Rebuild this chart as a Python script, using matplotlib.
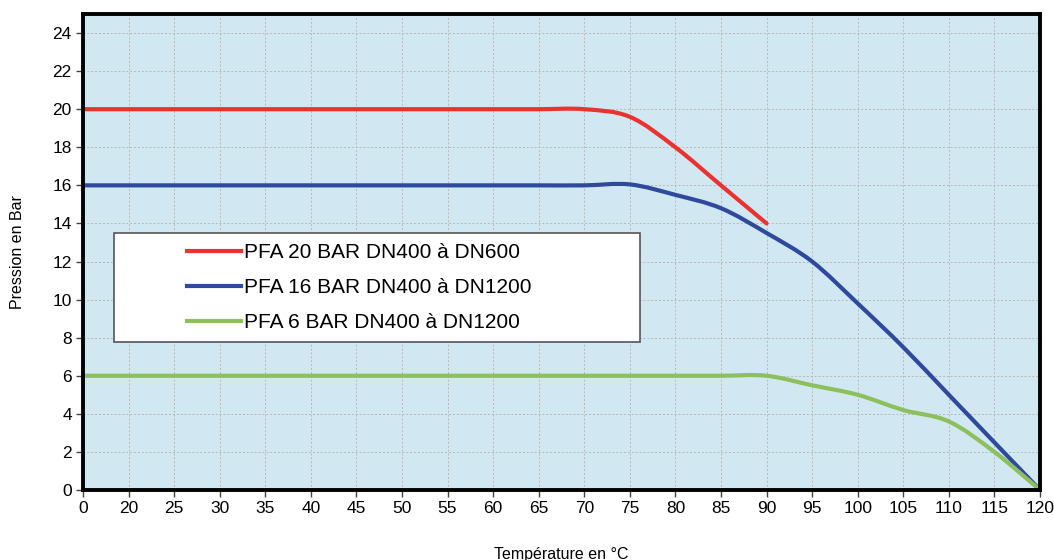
import matplotlib.pyplot as plt
from matplotlib.path import Path
from matplotlib.patches import PathPatch, Rectangle
from matplotlib.lines import Line2D
import numpy as np

plt.rcParams['font.family'] = ['Liberation Sans', 'DejaVu Sans']

# category axis: first label is 0, then 20..120 by 5
temps = ['0', '20', '25', '30', '35', '40', '45', '50', '55', '60', '65',
         '70', '75', '80', '85', '90', '95', '100', '105', '110', '115', '120']

# values, one per category
pfa20 = [20, 20, 20, 20, 20, 20, 20, 20, 20, 20, 20, 20.0, 19.6, 18.0, 16.0, 14.0]
pfa16 = [16, 16, 16, 16, 16, 16, 16, 16, 16, 16, 16, 16.0, 16.05, 15.5, 14.8, 13.5,
         12.0, 9.8, 7.5, 5.0, 2.5, 0.0]
pfa6 = [6, 6, 6, 6, 6, 6, 6, 6, 6, 6, 6, 6, 6, 6, 6.0, 6.0, 5.5, 5.0, 4.2, 3.6, 2.0, 0.0]

labels = ['PFA 20 BAR DN400 à DN600', 'PFA 16 BAR DN400 à DN1200', 'PFA 6 BAR DN400 à DN1200']
colors = ['#ea3331', '#2f4a9c', '#8dc05c']


def smooth_path(y):
    # Excel style smoothed line: cubic bezier segments through the points
    pts = np.column_stack([np.arange(len(y)), y]).astype(float)
    verts = [pts[0]]
    codes = [Path.MOVETO]
    n = len(pts)
    for i in range(n - 1):
        p0 = pts[max(i - 1, 0)]
        p1 = pts[i]
        p2 = pts[i + 1]
        p3 = pts[min(i + 2, n - 1)]
        c1 = p1 + (p2 - p0) / 6.0
        c2 = p2 - (p3 - p1) / 6.0
        verts += [c1, c2, p2]
        codes += [Path.CURVE4] * 3
    return Path(verts, codes)


fig = plt.figure(figsize=(10.54, 5.6), dpi=100)
ax = fig.add_axes([0.0787, 0.125, 0.908, 0.85])
ax.set_facecolor('#d1e8f2')

for series, c in zip([pfa20, pfa16, pfa6], colors):
    ax.add_patch(PathPatch(smooth_path(series), facecolor='none', edgecolor=c,
                           lw=3, capstyle='round', zorder=4))

ax.set_xlim(0, len(temps) - 1)
ax.set_ylim(0, 25)
ax.set_xticks(range(len(temps)))
ax.set_xticklabels(temps)
ax.set_yticks(range(0, 25, 2))
ax.tick_params(labelsize=12.5, length=5, width=1, color='#444444', pad=3)
ax.grid(True, color='#b8b8b8', linestyle=(0, (2, 2)), linewidth=0.7)
ax.set_axisbelow(True)
for sp in ax.spines.values():
    sp.set_linewidth(2.8)
    sp.set_color('black')
    sp.set_zorder(6)

ax.set_ylabel('Pression en Bar', fontsize=11.5, labelpad=20)
ax.set_xlabel('Température en °C', fontsize=11.5, labelpad=22)

# legend box
ax.add_patch(Rectangle((0.0324, 0.311), 0.55, 0.229, transform=ax.transAxes,
                       facecolor='white', edgecolor='#555555', lw=1.2, zorder=5))
handles = [Line2D([], [], color=c, lw=3) for c in colors]
leg = ax.legend(handles, labels, loc='center left', bbox_to_anchor=(0.0975, 0.4255),
                frameon=False, fontsize=15, handlelength=2.6, handletextpad=0.15,
                labelspacing=0.77, borderpad=0)
leg.set_zorder(7)

fig.savefig('out.png', dpi=100)
